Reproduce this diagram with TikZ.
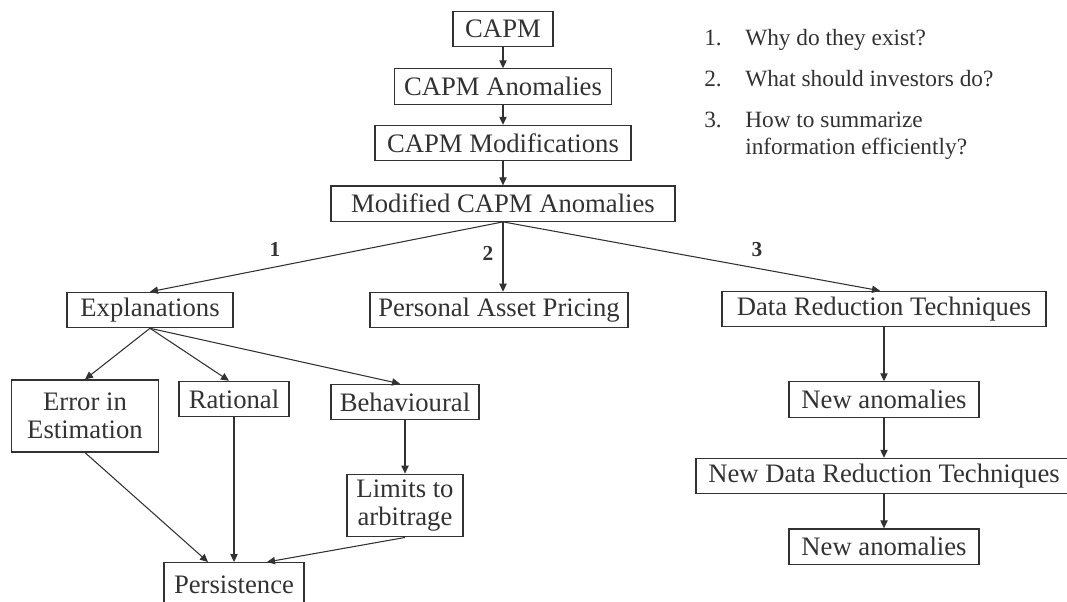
\documentclass[tikz,border=0pt]{standalone}
\usepackage{fontspec}
\setmainfont{Liberation Serif}
\usepackage{tikz}
\usetikzlibrary{arrows.meta, positioning, calc}
\definecolor{inkgray}{RGB}{50, 50, 50}

\begin{document}
\begin{tikzpicture}[
  x=0.75pt, y=-0.75pt,
  every node/.style={font=\fontsize{20}{21}\selectfont, text=inkgray},
  box/.style={
    draw=inkgray, line width=0.9pt, align=center,
    minimum height=26.5pt, inner sep=2pt
  },
  arrow/.style={-{Triangle[length=6pt, width=5.5pt]}, line width=0.8pt, draw=inkgray},
  num/.style={font=\fontsize{16}{18}\selectfont\bfseries},
  item/.style={font=\fontsize{17.5}{21}\selectfont, anchor=base west, inner sep=0pt}
]
  \useasboundingbox (0,0) rectangle (1067,601);

  % Colonna centrale in alto
  \node[box, minimum width=75pt] (capm) at (503,29) {CAPM};
  \node[box, minimum width=163pt, below=15.75pt of capm] (anom) {CAPM Anomalies};
  \node[box, minimum width=192pt, below=15pt of anom] (modif) {CAPM Modifications};
  \node[box, minimum width=258pt, below=18pt of modif] (modanom) {Modified CAPM Anomalies};

  % Domande
  \node[item] (n1) at (704,45) {1.};
  \node[item] (q1) at (745,45) {Why do they exist?};
  \node[item] (n2) at (704,86) {2.};
  \node[item] (q2) at (745,86) {What should investors do?};
  \node[item] (n3) at (704,127) {3.};
  \node[item] (q3) at (745,127) {How to summarize};
  \node[item] (q3b) at (745,154) {information efficiently?};

  % Secondo livello
  \node[box, minimum width=124.5pt] (expl) at (150,310) {Explanations};
  \node[box, minimum width=193.5pt] (pap) at (499,310) {Personal Asset Pricing};
  \node[box, minimum width=243pt] (drt) at (884,309) {Data Reduction Techniques};

  % Ramo delle spiegazioni
  \node[box, minimum width=110pt, minimum height=54pt] (err) at (85,416) {Error in\\Estimation};
  \node[box, minimum width=82.5pt] (rational) at (234,399) {Rational};
  \node[box, minimum width=111pt] (behav) at (405,402) {Behavioural};
  \node[box, minimum width=87pt, minimum height=47pt, below=40pt of behav] (limits) {Limits to\\arbitrage};
  \node[box, minimum width=105pt, minimum height=33pt, anchor=north] (persist) at (234,562) {Persistence};

  % Ramo della riduzione dei dati
  \node[box, minimum width=142.5pt, below=40.5pt of drt] (newanom) {New anomalies};
  \node[box, minimum width=282pt, below=30pt of newanom] (newdrt) {New Data Reduction Techniques};
  \node[box, minimum width=142.5pt, below=25.5pt of newdrt] (newanom2) {New anomalies};

  % Etichette dei rami
  \node[num] (l1) at (275,249) {1};
  \node[num] (l2) at (488,253) {2};
  \node[num] (l3) at (757,250) {3};

  % Frecce
  \draw[arrow] (capm) -- (anom);
  \draw[arrow] (anom) -- (modif);
  \draw[arrow] (modif) -- (modanom);
  \draw[arrow] (modanom.south) -- (expl.north);
  \draw[arrow] (modanom.south) -- (pap.north -| modanom.south);
  \draw[arrow] (modanom.south) -- ($(drt.north)+(-4,0)$);

  \draw[arrow] (expl.south) -- (err.north);
  \draw[arrow] (expl.south) -- ($(rational.north)+(-5,0)$);
  \draw[arrow] (expl.south) -- ($(behav.north)+(-5,0)$);
  \draw[arrow] (behav) -- (limits);
  \draw[arrow] (err.south) -- ($(persist.north)+(-26,0)$);
  \draw[arrow] (rational) -- (persist);
  \draw[arrow] (limits.south) -- ($(persist.north)+(33,0)$);

  \draw[arrow] (drt.south -| newanom) -- (newanom);
  \draw[arrow] (newanom) -- (newanom.south |- newdrt.north);
  \draw[arrow] (newanom.south |- newdrt.south) -- (newanom2);
\end{tikzpicture}
\end{document}
